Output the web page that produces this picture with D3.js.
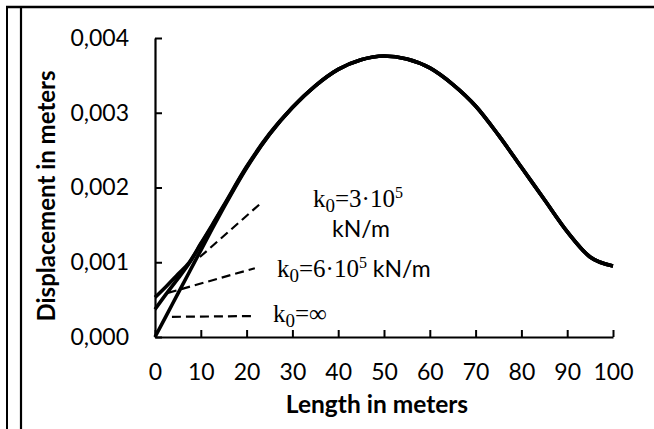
<!DOCTYPE html>
<html>
<head>
<meta charset="utf-8">
<script src="https://cdn.jsdelivr.net/npm/d3@7"></script>
<style>
  html, body { margin: 0; padding: 0; background: #fff; }
  svg { display: block; }
</style>
</head>
<body>
<svg id="chart" width="654" height="429"></svg>
<script>
// Positions along the beam, metres
const positions = [0, 2.5, 5, 7.5, 10, 12.5, 15, 20, 25, 30, 35, 40, 45, 50, 55, 60, 65, 70, 75, 80, 85, 90, 95, 100];

// Displacement in metres for each end-support stiffness k0
const dispRigid = [0, 0.00029, 0.00058, 0.00087, 0.00116, 0.00145, 0.00173, 0.00226, 0.00271, 0.00307, 0.00336, 0.00358, 0.00371, 0.00376, 0.00372, 0.00360, 0.00338, 0.00309, 0.00270, 0.00227, 0.00184, 0.00141, 0.00107, 0.00095];
const disp6e5   = [0.00037, 0.00058, 0.00078, 0.00099, 0.00124, 0.00149, 0.00175, 0.00227, 0.00271, 0.00307, 0.00336, 0.00358, 0.00371, 0.00376, 0.00372, 0.00360, 0.00338, 0.00309, 0.00270, 0.00227, 0.00184, 0.00141, 0.00107, 0.00095];
const disp3e5   = [0.00053, 0.00068, 0.00084, 0.00100, 0.00125, 0.00150, 0.00176, 0.00228, 0.00272, 0.00307, 0.00336, 0.00358, 0.00371, 0.00376, 0.00372, 0.00360, 0.00338, 0.00309, 0.00270, 0.00227, 0.00184, 0.00141, 0.00107, 0.00095];

// Leader lines from each stiffness label to its curve: [length, displacement]
const leader3e5   = [[9.8, 0.00107], [23.3, 0.00180]];
const leader6e5   = [[2.8, 0.00059], [21.8, 0.00092]];
const leaderRigid = [[3.7, 0.00027], [21.4, 0.00028]];

// Axis ticks and titles
const xTickValues = [0, 10, 20, 30, 40, 50, 60, 70, 80, 90, 100];
const yTickValues = [0, 0.001, 0.002, 0.003, 0.004];
const xTitle = "Length in meters";
const yTitle = "Displacement in meters";

const svg = d3.select("#chart");
const W = 654, H = 429;

// Cell border around the figure
const frame = svg.append("g").attr("stroke", "#000");
frame.append("line").attr("x1", 6).attr("x2", W).attr("y1", 7).attr("y2", 7).attr("stroke-width", 2.5);
frame.append("line").attr("x1", 7).attr("x2", 7).attr("y1", 6).attr("y2", H).attr("stroke-width", 2);
frame.append("line").attr("x1", 21).attr("x2", 21).attr("y1", 8).attr("y2", H).attr("stroke-width", 2.2);

const x = d3.scaleLinear().domain([0, 100]).range([155, 613]);
const y = d3.scaleLinear().domain([0, 0.004]).range([337, 38]);

const locale = d3.formatLocale({ decimal: ",", thousands: ".", grouping: [3], currency: ["", ""] });
const fmtY = locale.format(".3f");

const sansFont = "Lato, 'Open Sans', sans-serif";
const serifFont = "'Liberation Serif', 'DejaVu Serif', serif";

// x axis: ticks point up into the plot
const gx = svg.append("g").attr("transform", `translate(0,${y(0)})`)
  .call(d3.axisBottom(x).tickValues(xTickValues).tickSizeInner(-7).tickSizeOuter(0).tickPadding(27).tickFormat(d3.format("d")));
// y axis: ticks point right into the plot
const gy = svg.append("g").attr("transform", `translate(${x(0)},0)`)
  .call(d3.axisLeft(y).tickValues(yTickValues).tickSizeInner(-7).tickSizeOuter(0).tickPadding(26).tickFormat(fmtY));

[gx, gy].forEach(g => {
  g.select(".domain").attr("stroke", "#000").attr("stroke-width", 2.2);
  g.selectAll(".tick line").attr("stroke", "#000").attr("stroke-width", 2);
  g.selectAll(".tick text").attr("fill", "#000").style("font-family", sansFont).style("font-size", "23px");
});

// Axis titles
svg.append("text")
  .attr("x", 377).attr("y", 413)
  .attr("text-anchor", "middle")
  .style("font-family", sansFont).style("font-size", "24.5px").style("font-weight", "bold")
  .text(xTitle);
svg.append("text")
  .attr("transform", `translate(55,196) rotate(-90)`)
  .attr("text-anchor", "middle")
  .style("font-family", sansFont).style("font-size", "24px").style("font-weight", "bold")
  .text(yTitle);

// Displacement curves
const line = d3.line().x((d, i) => x(positions[i])).y(d => y(d)).curve(d3.curveMonotoneX);
[disp3e5, disp6e5, dispRigid].forEach(series => {
  svg.append("path").datum(series)
    .attr("d", line)
    .attr("fill", "none").attr("stroke", "#000").attr("stroke-width", 3.6)
    .attr("stroke-linejoin", "round");
});

// Dashed leader lines
const leaderLine = d3.line().x(d => x(d[0])).y(d => y(d[1]));
[leader3e5, leader6e5, leaderRigid].forEach(seg => {
  svg.append("path").datum(seg)
    .attr("d", leaderLine)
    .attr("fill", "none").attr("stroke", "#000").attr("stroke-width", 2.2)
    .attr("stroke-dasharray", "9,5");
});

// Stiffness labels
function stiffnessLabel(px, py, mantissa) {
  const t = svg.append("text").attr("x", px).attr("y", py)
    .style("font-family", serifFont).style("font-size", "25px").attr("fill", "#000");
  t.append("tspan").text("k");
  t.append("tspan").attr("dy", 5).style("font-size", "19px").text("0");
  t.append("tspan").attr("dy", -5).text(mantissa);
  return t;
}
// k0 = 3·10^5 kN/m (unit on second line)
const t1 = stiffnessLabel(313, 207, "=3·10");
t1.append("tspan").attr("dy", -9).style("font-size", "16px").text("5");
svg.append("text").attr("x", 332).attr("y", 237)
  .style("font-family", sansFont).style("font-size", "23px").text("kN/m");
// k0 = 6·10^5 kN/m
const t2 = stiffnessLabel(277, 277, "=6·10");
t2.append("tspan").attr("dy", -9).style("font-size", "16px").text("5");
t2.append("tspan").attr("dy", 9).style("font-family", sansFont).style("font-size", "23px").text(" kN/m");
// k0 = ∞
stiffnessLabel(273, 322, "=∞");
</script>
</body>
</html>
